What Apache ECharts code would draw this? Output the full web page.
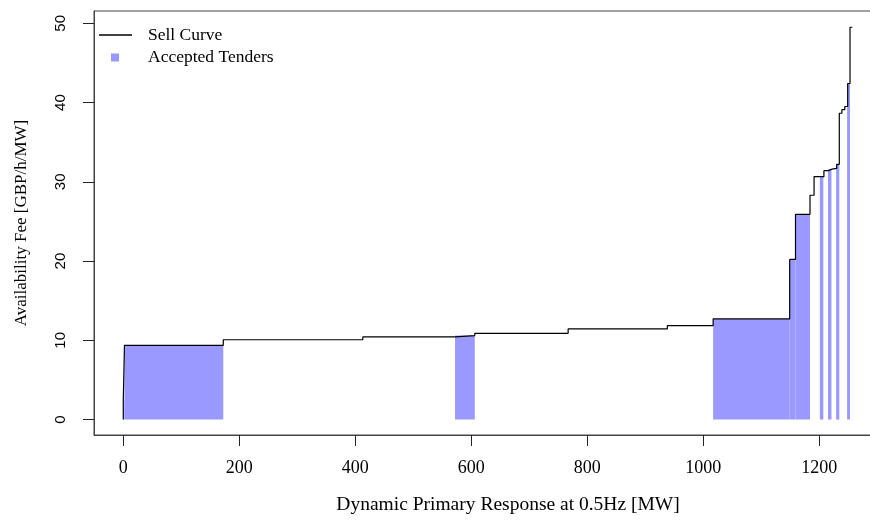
<!DOCTYPE html>
<html>
<head>
<meta charset="utf-8">
<script src="https://cdn.jsdelivr.net/npm/echarts@6/dist/echarts.min.js"></script>
<style>html,body{margin:0;padding:0;background:#fff;overflow:hidden;}#c{width:930px;height:524px;}</style>
</head>
<body>
<div id="c"></div>
<script>
// Sell curve: level stepY[i] starts at stepX[i]
const stepX = [0, 0, 2, 172.4, 413, 572, 606, 767, 938, 1017, 1149, 1159, 1184, 1191, 1208, 1215.5, 1222, 1230, 1234.5, 1239, 1244, 1249, 1253, 1257];
const stepY = [0, 2.4, 9.36, 10.07, 10.43, 10.6, 10.88, 11.43, 11.85, 12.69, 20.2, 25.9, 28.3, 30.65, 31.4, 31.6, 31.7, 32.2, 38.65, 39.1, 39.5, 42.4, 49.5, 49.5];
// Accepted tenders: start MW, end MW, fee
const tenderStart = [0, 2, 572, 1017, 1149, 1159, 1201, 1215, 1229, 1248];
const tenderEnd   = [2, 172.4, 606, 1149, 1159, 1184, 1207, 1221, 1234.5, 1253];
const tenderFee   = [2.4, 9.36, 10.6, 12.69, 20.2, 25.9, 30.65, 31.6, 32.2, 42.4];
const xTicks = [0, 200, 400, 600, 800, 1000, 1200];
const yTicks = [0, 10, 20, 30, 40, 50];

const curveData = stepX.map((x, i) => [x, stepY[i]]);
const tenderData = tenderStart.map((s, i) => [s, tenderEnd[i], tenderFee[i]]);

const serif = 'Liberation Serif';
const chart = echarts.init(document.getElementById('c'), null, {renderer: 'canvas'});
chart.setOption({
  animation: false,
  backgroundColor: '#fff',
  grid: {left: 94, top: 11, width: 828, height: 424, show: true, borderColor: '#444', borderWidth: 1, backgroundColor: 'transparent'},
  legend: [
    {data: [{name: 'Sell Curve', icon: 'rect'}], left: 99, top: 26, padding: 0, itemWidth: 33, itemHeight: 1.3,
     itemStyle: {color: '#000'},
     textStyle: {fontFamily: serif, fontSize: 17.5, color: '#000', padding: [0, 0, 0, 11]}},
    {data: [{name: 'Accepted Tenders', icon: 'rect'}], left: 111, top: 48.5, padding: 0, itemWidth: 8, itemHeight: 8,
     textStyle: {fontFamily: serif, fontSize: 17.5, color: '#000', padding: [0, 0, 0, 24]}}
  ],
  xAxis: {
    type: 'value', min: -50.5, max: 1377.1,
    name: 'Dynamic Primary Response at 0.5Hz [MW]', nameLocation: 'middle', nameGap: 60,
    nameTextStyle: {fontFamily: serif, fontSize: 19.5, color: '#000'},
    axisLine: {show: true, onZero: false, lineStyle: {color: '#444', width: 1}},
    axisTick: {show: true, length: 11, customValues: xTicks, lineStyle: {color: '#222'}},
    axisLabel: {customValues: xTicks, formatter: v => String(v), fontFamily: serif, fontSize: 18, color: '#000', margin: 24},
    splitLine: {show: false}
  },
  yAxis: {
    type: 'value', min: -1.95, max: 51.55,
    name: 'Availability Fee [GBP/h/MW]', nameLocation: 'middle', nameGap: 64, nameRotate: 90,
    nameTextStyle: {fontFamily: serif, fontSize: 17, color: '#000'},
    axisLine: {show: true, onZero: false, lineStyle: {color: '#444', width: 1}},
    axisTick: {show: true, length: 11, customValues: yTicks, lineStyle: {color: '#222'}},
    axisLabel: {customValues: yTicks, formatter: v => String(v), rotate: 90, fontFamily: 'Liberation Sans', fontSize: 15, color: '#000', margin: 26},
    splitLine: {show: false}
  },
  series: [
    {
      name: 'Accepted Tenders', type: 'custom', z: 1,
      itemStyle: {color: '#9999FF'},
      data: tenderData,
      encode: {x: [0, 1], y: 2},
      renderItem: function (params, api) {
        const p0 = api.coord([api.value(0), 0]);
        const p1 = api.coord([api.value(1), api.value(2)]);
        return {type: 'rect', shape: {x: p0[0], y: p1[1], width: p1[0] - p0[0], height: p0[1] - p1[1]},
                style: {fill: '#9999FF'}};
      }
    },
    {
      name: 'Sell Curve', type: 'line', step: 'end', z: 3,
      data: curveData, showSymbol: false, symbol: 'none',
      lineStyle: {color: '#000', width: 1.2}, itemStyle: {color: '#000'}
    }
  ]
});
</script>
</body>
</html>
